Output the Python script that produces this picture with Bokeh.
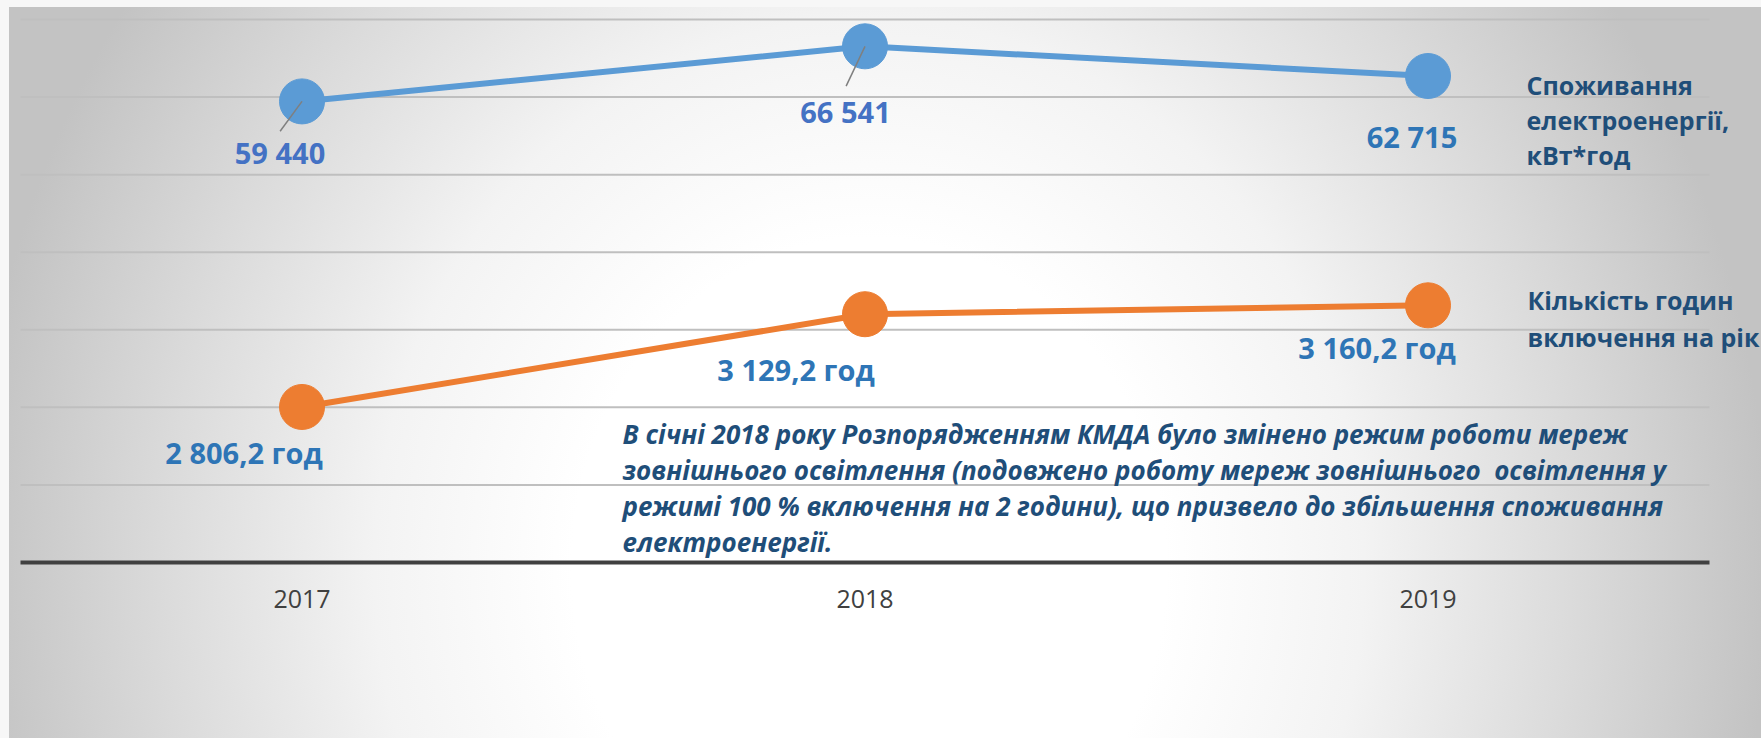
import math
from bokeh.plotting import figure
from bokeh.models import Range1d, ColumnDataSource, Label
from bokeh.core.properties import value
from bokeh.embed import file_html
from bokeh.resources import INLINE

# ---------------- data ----------------
years = [2017, 2018, 2019]
year_labels = ["2017", "2018", "2019"]
consumption = [59440, 66541, 62715]          # кВт*год
hours = [2806.2, 3129.2, 3160.2]              # год
consumption_name = ["Споживання", "електроенергії,", "кВт*год"]
hours_name = ["Кількість годин", "включення на рік"]
note_lines = [
    "В січні 2018 року Розпорядженням КМДА було змінено режим роботи мереж",
    "зовнішнього освітлення (подовжено роботу мереж зовнішнього\u00a0 освітлення у",
    "режимі 100 % включення на 2 години), що призвело до збільшення споживання",
    "електроенергії.",
]
grid_ticks = [10000, 20000, 30000, 40000, 50000, 60000, 70000]
axis_base = 0


def fmt_int(v):
    return f"{int(round(v)):,}".replace(",", " ")


def fmt_hours(v):
    return f"{v:,.1f}".replace(",", " ").replace(".", ",") + " год"


# ---------------- layout (frame = whole canvas) ----------------
W, H = 1761, 738
PX_PER_YEAR = 563.0
X_2017_PX = 301.5
X0 = 2017 - X_2017_PX / PX_PER_YEAR
X1 = X0 + W / PX_PER_YEAR
AXIS_PX, TOP_GRID_PX = 562.0, 19.0
UNITS_PER_PX = 70000 / (AXIS_PX - TOP_GRID_PX)
Y0 = -(H - AXIS_PX) * UNITS_PER_PX
Y1 = AXIS_PX * UNITS_PER_PX

BLUE = "#5B9BD5"
ORANGE = "#ED7D31"
DARK = "#1F4E79"
FONT = "Open Sans"

p = figure(
    width=W, height=H,
    x_range=Range1d(X0, X1), y_range=Range1d(Y0, Y1),
    output_backend="svg", toolbar_location=None,
    x_axis_location=None, y_axis_location=None,
    min_border=0,
    background_fill_alpha=0, border_fill_alpha=0, outline_line_color=None,
    styles={"background": "radial-gradient(ellipse 900px 1000px at 860px 561px, "
                          "#ffffff 0%, #ffffff 33%, #f3f3f3 55%, #dbdbdb 78%, #c3c3c3 100%) "
                          "9px 7px / 1752px 731px no-repeat, #f7f7f7"},
)
p.grid.visible = False
p.extra_y_ranges = {"hours": Range1d(1651.6, 4221.8)}


def xd(px):
    return X0 + px / PX_PER_YEAR


def yd(py):
    return (AXIS_PX - py) * UNITS_PER_PX


# gridlines and category axis
gx0, gx1 = xd(20), xd(1709)
p.segment(x0=[gx0] * len(grid_ticks), x1=[gx1] * len(grid_ticks),
          y0=grid_ticks, y1=grid_ticks, line_color="#bfbfbf", line_width=2)
p.segment(x0=[gx0], x1=[gx1], y0=[axis_base], y1=[axis_base],
          line_color="#404040", line_width=4)
p.text(x=years, y=[axis_base] * len(years), text=year_labels, y_offset=36,
       text_align="center", text_baseline="middle",
       text_font=value(FONT), text_font_size="25px", text_color="#404040")

# ---------------- series ----------------
src_c = ColumnDataSource(dict(
    x=years, y=consumption,
    label=[fmt_int(v) for v in consumption],
    dx=[-22, -19.5, -16], dy=[51, 65, 60],
    color=["#4472C4", "#4472C4", "#2E75B6"],
))
src_h = ColumnDataSource(dict(
    x=years, y=hours,
    label=[fmt_hours(v) for v in hours],
    dx=[-58, -69, -51], dy=[46, 55, 42],
))

p.line("x", "y", source=src_c, line_color=BLUE, line_width=6)
p.scatter("x", "y", source=src_c, size=45, fill_color=BLUE, line_color=BLUE)

# leader lines (2017, 2018)
lead_len = [37, 44]
lead_ang = [math.atan2(-30, -22), math.atan2(-40, -19)]
p.ray(x=years[:2], y=consumption[:2], length=lead_len, length_units="screen",
      angle=lead_ang, line_color="#7f7f7f", line_width=1.5)

p.text("x", "y", text="label", source=src_c, x_offset="dx", y_offset="dy",
       text_align="center", text_baseline="middle",
       text_font=value(FONT), text_font_style="bold", text_font_size="29px",
       text_color="color")

p.line("x", "y", source=src_h, y_range_name="hours", line_color=ORANGE, line_width=6)
p.scatter("x", "y", source=src_h, y_range_name="hours", size=45,
          fill_color=ORANGE, line_color=ORANGE)
p.text("x", "y", text="label", source=src_h, y_range_name="hours",
       x_offset="dx", y_offset="dy",
       text_align="center", text_baseline="middle",
       text_font=value(FONT), text_font_style="bold", text_font_size="29px",
       text_color="#2E75B6")

# ---------------- series names ----------------
for line, base in zip(consumption_name, [84, 119, 154]):
    p.add_layout(Label(x=xd(1526), y=yd(base), text=line, text_font=FONT,
                       text_font_style="bold", text_font_size="25px",
                       text_color=DARK, text_baseline="alphabetic"))
for line, base in zip(hours_name, [299, 336]):
    p.add_layout(Label(x=xd(1527), y=yd(base), text=line, text_font=FONT,
                       text_font_style="bold", text_font_size="25px",
                       text_color=DARK, text_baseline="alphabetic"))

# ---------------- note ----------------
for line, base in zip(note_lines, [433, 469, 505, 541]):
    p.add_layout(Label(x=xd(622), y=yd(base), text=line, text_font=FONT,
                       text_font_style="bold italic", text_font_size="26px",
                       text_color=DARK, text_baseline="alphabetic"))

open("out.html", "w").write(file_html(p, INLINE))
